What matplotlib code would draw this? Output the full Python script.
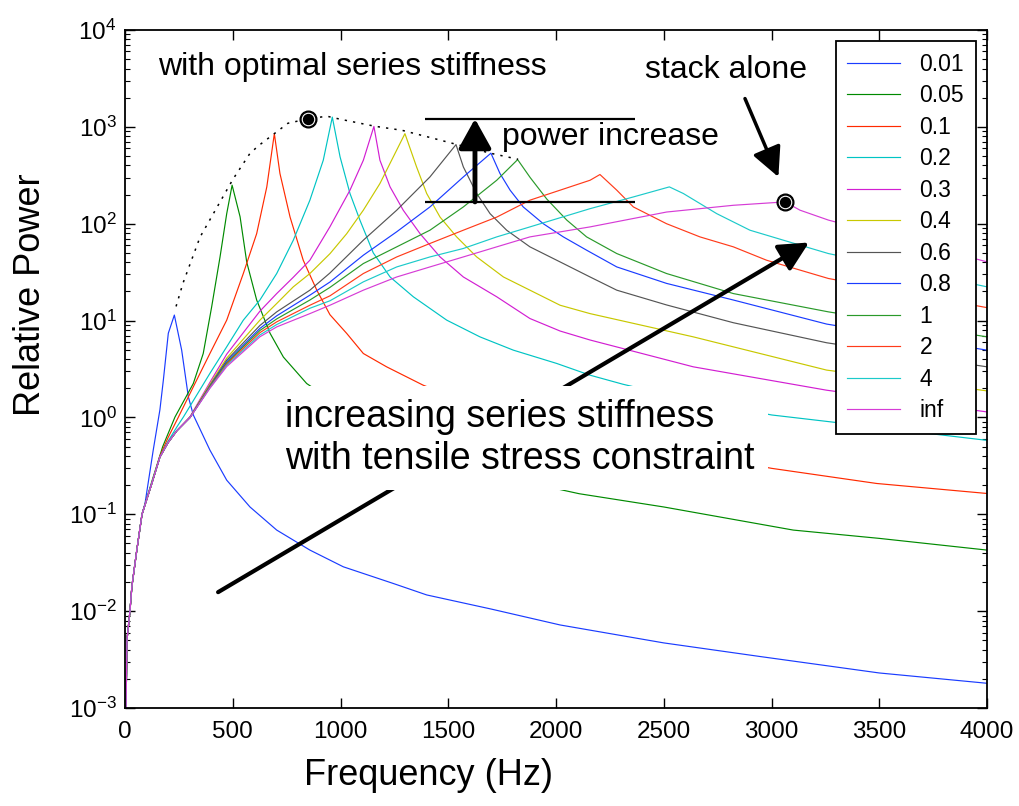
import numpy as np
import matplotlib
matplotlib.use('Agg')
import matplotlib.pyplot as plt

plt.rcParams['font.family'] = ['Liberation Sans', 'DejaVu Sans']
plt.rcParams['mathtext.fontset'] = 'custom'
plt.rcParams['mathtext.rm'] = 'Liberation Sans'

# ==========================================
# DATA
# ==========================================
labels = ['0.01', '0.05', '0.1', '0.2', '0.3', '0.4', '0.6', '0.8', '1', '2', '4', 'inf']
colors = ['#1a3cff', '#008a00', '#ff2a00', '#00c4c4', '#d21ed2', '#c8c800',
          '#555555', '#1a3cff', '#2a9a2a', '#ff3b1a', '#1ccaca', '#d63cd6']

# common low-frequency rise shared by the stiffer springs
base_f = [5, 9, 23, 32, 55, 79, 125, 162, 200, 241]
base_p = [0.001, 0.005, 0.010, 0.018, 0.043, 0.10, 0.21, 0.39, 0.55, 0.73]

f_001 = [5, 9, 23, 32, 55, 79, 93, 131, 162, 178, 201, 229, 263, 294, 317, 394, 472,
         580, 704, 858, 1013, 1245, 1400, 1700, 2019, 2500, 2947, 3500, 4000]
p_001 = [0.001, 0.005, 0.010, 0.018, 0.043, 0.10, 0.13, 0.46, 1.2, 2.43, 7.4, 11.4, 4.95,
         1.63, 1.06, 0.46, 0.225, 0.119, 0.0687, 0.0427, 0.0287, 0.0193, 0.0147, 0.0105,
         0.0072, 0.0047, 0.0034, 0.0023, 0.0018]

f_005 = [5, 9, 23, 32, 55, 79, 125, 175, 232, 317, 363, 402, 441, 472, 497, 534, 565, 611,
         673, 735, 843, 1000, 1200, 1500, 1800, 2108, 2500, 3101, 3500, 4000]
p_005 = [0.001, 0.005, 0.010, 0.018, 0.043, 0.10, 0.22, 0.5, 1.01, 2.24, 4.57, 13.8, 45.4,
         127, 250, 118, 40, 16.3, 7.4, 4.2, 2.24, 1.3, 0.75, 0.38, 0.23, 0.163, 0.119,
         0.0687, 0.0564, 0.0427]

f_01 = [5, 9, 23, 32, 55, 79, 125, 162, 200, 247, 317, 394, 472, 549, 611, 658, 693, 719,
        766, 827, 890, 951, 1029, 1106, 1214, 1384, 1600, 1900, 2200, 2500, 2800, 3001,
        3488, 4000]
p_01 = [0.001, 0.005, 0.010, 0.018, 0.043, 0.10, 0.21, 0.40, 0.62, 1.0, 2.07, 4.57, 10.1,
        30.6, 79, 240, 851, 330, 117, 42, 20.6, 11.5, 7.36, 4.57, 3.33, 2.15, 1.4, 0.9,
        0.62, 0.46, 0.36, 0.298, 0.208, 0.164]

f_02 = [5, 9, 23, 32, 55, 79, 125, 162, 200, 241, 271, 394, 472, 549, 626, 704, 781, 858,
        920, 962, 998, 1044, 1090, 1152, 1230, 1338, 1493, 1647, 1802, 2003, 2158, 2311,
        2500, 2750, 3001, 3256, 4000]
p_02 = [0.001, 0.005, 0.010, 0.018, 0.043, 0.10, 0.21, 0.39, 0.57, 0.8, 1.01, 2.85, 5.36,
        10.1, 16.3, 30.6, 67.6, 175, 452, 1260, 490, 205, 109, 50, 28.2, 17.6, 10.1, 6.79,
        4.95, 3.61, 2.73, 2.2, 1.75, 1.35, 1.06, 0.91, 0.58]

f_03 = [302, 394, 472, 626, 704, 781, 858, 951, 1044, 1106, 1155, 1183, 1230, 1291, 1369,
        1462, 1570, 1725, 1879, 2019, 2158, 2637, 3256, 4000]
p_03 = [1.02, 2.3, 4.5, 12.5, 19, 28, 42, 93, 222, 452, 1010, 452, 240, 138, 79, 45.4,
        28.2, 17.6, 10.5, 7.8, 6.3, 3.33, 1.91, 1.14]

f_04 = [302, 394, 472, 626, 704, 781, 858, 951, 1029, 1106, 1183, 1299, 1353, 1400, 1462,
        1539, 1632, 1756, 1879, 2019, 2158, 2637, 3256, 4000]
p_04 = [1.01, 2.2, 4.1, 10.1, 15, 22.3, 30.6, 49, 79, 138, 260, 851, 386, 205, 117, 73.1,
        45.4, 28.2, 20.6, 14.4, 11.8, 6.79, 3.08, 1.88]

f_06 = [302, 394, 472, 626, 704, 858, 951, 1106, 1261, 1415, 1536, 1570, 1632, 1694, 1771,
        1879, 2034, 2158, 2282, 2513, 2823, 3256, 4000]
p_06 = [1.0, 2.13, 3.9, 8.9, 12.3, 20.6, 31, 67.6, 138, 304, 656, 386, 205, 127, 85.7,
        57.7, 38.8, 28.2, 20.6, 14.5, 9.5, 5.9, 3.33]

f_08 = [302, 394, 472, 626, 704, 858, 951, 1106, 1261, 1415, 1570, 1698, 1740, 1787, 1848,
        1941, 2034, 2142, 2282, 2513, 2823, 3256, 4000]
p_08 = [1.0, 2.1, 3.75, 8.3, 11.2, 18.3, 25, 47.3, 82.6, 149, 304, 535, 330, 222, 149,
        100, 73.1, 53.3, 35.8, 24.2, 16.3, 9.2, 4.95]

f_1 = [302, 394, 472, 626, 704, 858, 951, 1106, 1261, 1415, 1570, 1725, 1822, 1880, 1957,
       2050, 2142, 2282, 2513, 2823, 3264, 4000]
p_1 = [1.0, 2.08, 3.65, 7.9, 10.4, 16.3, 22, 38.8, 57.7, 85.7, 149, 281, 459, 300, 180,
       109, 73.1, 49.2, 30.6, 19, 12.3, 6.79]

f_2 = [302, 394, 472, 626, 704, 858, 951, 1106, 1261, 1415, 1570, 1725, 1879, 2158, 2204,
       2282, 2359, 2513, 2668, 2823, 2977, 3264, 4000]
p_2 = [1.0, 2.05, 3.55, 7.5, 9.7, 14.4, 18, 30.6, 45.4, 62.5, 85.7, 117, 175, 281, 322,
       222, 149, 100, 73.1, 57.7, 42, 27.2, 13.6]

f_4 = [302, 394, 472, 626, 704, 858, 951, 1106, 1261, 1415, 1570, 1725, 1879, 2158, 2359,
       2526, 2591, 2746, 2900, 3055, 3264, 4000]
p_4 = [1.0, 2.02, 3.45, 7.1, 9.1, 13.4, 16, 25.1, 35.8, 45.4, 55.5, 73.1, 92.7, 143, 189,
       240, 205, 127, 85.7, 67.6, 49.2, 22.3]

f_inf = [302, 394, 472, 626, 704, 858, 951, 1106, 1261, 1415, 1570, 1725, 1879, 2158,
         2513, 2823, 3063, 3132, 3264, 4000]
p_inf = [1.0, 2.0, 3.35, 6.8, 8.6, 11.8, 14.4, 20.6, 28.2, 35.8, 45.4, 57.7, 73.1, 92.7,
         132, 155, 168, 138, 109, 40.4]

# optimal-series-stiffness envelope (dotted)
env_f = [237, 269, 348, 427, 501, 580, 622, 756, 849, 937, 998, 1160, 1285, 1429, 1536,
         1698, 1824]
env_p = [14, 24.3, 72.6, 148, 288, 533, 645, 1089, 1210, 1288, 1200, 1014, 922, 763, 661,
         533, 463]

opt_f, opt_p = 849, 1210          # marked optimum
bracket_f = (1392, 2367)          # extent of the "power increase" bracket
bracket_arrow_f = 1624

curves = [
    (f_001, p_001), (f_005, p_005), (f_01, p_01), (f_02, p_02),
    (base_f + f_03, base_p + p_03), (base_f + f_04, base_p + p_04),
    (base_f + f_06, base_p + p_06), (base_f + f_08, base_p + p_08),
    (base_f + f_1, base_p + p_1), (base_f + f_2, base_p + p_2),
    (base_f + f_4, base_p + p_4), (base_f + f_inf, base_p + p_inf),
]

# ==========================================
# PLOT
# ==========================================
fig = plt.figure(figsize=(10.19, 8.06), dpi=100)
ax = fig.add_axes([125 / 1019, 98 / 806, 862 / 1019, 678 / 806])

for (f, p), lab, col in zip(curves, labels, colors):
    ax.plot(f, p, color=col, lw=0.85, label=lab, zorder=2)

ax.plot(env_f, env_p, color='k', lw=1.1, linestyle=(0, (1.5, 4)), zorder=2)

# stack alone = peak of the inf curve
i_stack = int(np.argmax(p_inf))
stack_f, stack_p = f_inf[i_stack], p_inf[i_stack]

for pf, pp in [(opt_f, opt_p), (stack_f, stack_p)]:
    ax.plot(pf, pp, 'o', ms=12, mfc='k', mec='k', zorder=6)
    ax.plot(pf, pp, 'o', ms=9, mfc='k', mec='white', mew=0.8, zorder=6)

# power increase bracket
ax.hlines([opt_p, stack_p], bracket_f[0], bracket_f[1], color='k', lw=1.6, zorder=3)
ax.annotate('', xy=(bracket_arrow_f, opt_p), xytext=(bracket_arrow_f, stack_p),
            arrowprops=dict(arrowstyle='-|>,head_length=0.9,head_width=0.5', lw=3.5,
                            color='k', mutation_scale=20, shrinkA=0, shrinkB=0), zorder=3)

# stack alone arrow
ax.annotate('', xy=(3032, 304), xytext=(2877, 1959),
            arrowprops=dict(arrowstyle='-|>,head_length=0.9,head_width=0.45', lw=2.5,
                            color='k', mutation_scale=20, shrinkA=0, shrinkB=0), zorder=3)

# increasing stiffness arrow
ax.annotate('', xy=(3174, 64), xytext=(432, 0.0157),
            arrowprops=dict(arrowstyle='-|>,head_length=0.9,head_width=0.45', lw=3,
                            color='k', mutation_scale=20, shrinkA=0, shrinkB=0), zorder=3)

ax.text(0.038, 0.945, 'with optimal series stiffness', transform=ax.transAxes,
        fontsize=23, va='center', ha='left')
ax.text(0.437, 0.842, 'power increase', transform=ax.transAxes,
        fontsize=23, va='center', ha='left', zorder=4)
ax.text(0.603, 0.941, 'stack alone', transform=ax.transAxes,
        fontsize=23, va='center', ha='left')
ax.text(0.186, 0.398, 'increasing series stiffness\nwith tensile stress constraint',
        transform=ax.transAxes, fontsize=27, va='center', ha='left', zorder=4,
        bbox=dict(boxstyle='square,pad=0.35', fc='white', ec='none'))

ax.set_yscale('log')
ax.set_xlim(0, 4000)
ax.set_ylim(1e-3, 1e4)
ax.set_xticks(np.arange(0, 4001, 500))
ax.set_yticks([10.0 ** k for k in range(-3, 5)])

ax.tick_params(which='both', direction='in', top=True, right=True, labelsize=17.5)
ax.tick_params(which='major', length=7, width=1.0)
ax.tick_params(which='minor', length=3.5, width=0.8)
ax.tick_params(axis='x', which='minor', bottom=False, top=False)
ax.tick_params(axis='x', pad=9)
ax.tick_params(axis='y', pad=6)
for s in ax.spines.values():
    s.set_linewidth(1.3)

ax.set_xlabel('Frequency (Hz)', fontsize=26, va='center')
ax.xaxis.set_label_coords(0.352, -0.099)
ax.set_ylabel('Relative Power', fontsize=26, va='center')
ax.yaxis.set_label_coords(-0.110, 0.609)

leg = ax.legend(loc='upper right', fontsize=16.5, frameon=True, fancybox=False,
                edgecolor='k', framealpha=1, borderaxespad=0.5, handlelength=2.3,
                handletextpad=0.85, labelspacing=0.37, borderpad=0.5)
leg.get_frame().set_linewidth(1.3)
leg.set_zorder(7)

fig.savefig('out.png', dpi=100)
